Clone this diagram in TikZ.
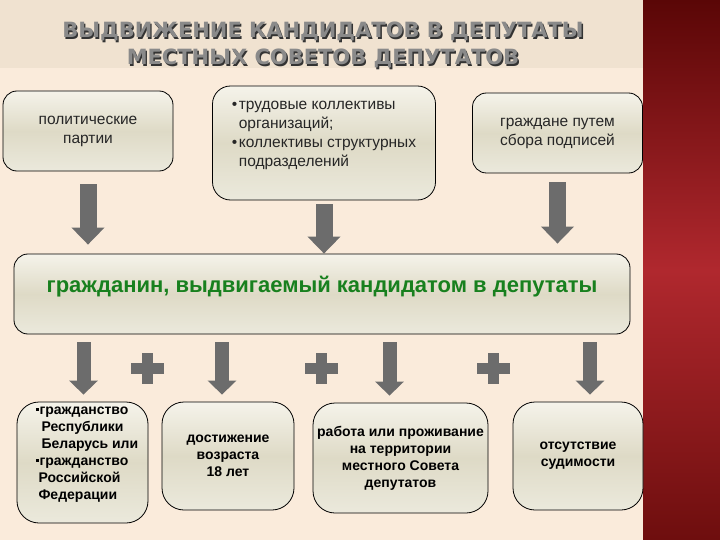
\documentclass[tikz,border=0pt]{standalone}
\usepackage{fontspec}
\setmainfont{Liberation Sans}
\newfontfamily\headfont{DejaVu Sans}
\usepackage{tikz}
\usetikzlibrary{arrows.meta,calc,positioning}
\definecolor{bgcream}{HTML}{FAEBDB}
\definecolor{bandbeige}{HTML}{F0E2D0}
\definecolor{redtop}{HTML}{5A0606}
\definecolor{redmid}{HTML}{B0282E}
\definecolor{redbot}{HTML}{6E0E0E}
\definecolor{boxtop}{HTML}{F5F3EA}
\definecolor{boxmid}{HTML}{DEDAC6}
\definecolor{boxbot}{HTML}{EBE9DC}
\definecolor{arrowgray}{HTML}{6C6C6C}
\definecolor{headgray}{HTML}{8A8A8A}
\definecolor{headshadow}{HTML}{333333}
\definecolor{candgreen}{HTML}{18801E}
\newcommand{\sqbul}{\raisebox{4pt}{\rule{3pt}{3pt}}\hspace{1pt}}
\tikzset{
    blok/.style={
        draw=black, line width=0.8pt,
        rounded corners=14pt,
        top color=boxtop, bottom color=boxbot, middle color=boxmid
    },
    plaintxt/.style={font=\fontsize{15.5}{19}\selectfont, text=black!85, align=center},
    boldtxt/.style={font=\bfseries\fontsize{14}{17}\selectfont, align=center},
    pil/.style={line width=17pt, draw=arrowgray, -{Triangle[width=32pt,length=17pt]}},
    pilsmall/.style={line width=14pt, draw=arrowgray, -{Triangle[width=28pt,length=14pt]}},
    titletxt/.style={font=\headfont\bfseries\fontsize{21}{27}\selectfont, align=center},
}

\begin{document}
\begin{tikzpicture}[x=1pt,y=-1pt]
\useasboundingbox (0,0) rectangle (720,540);
% background
\fill[bgcream] (0,0) rectangle (720,540);
\fill[bandbeige] (0,0) rectangle (643,68);
\shade[top color=redtop, bottom color=redbot, middle color=redmid] (643,0) rectangle (720,540);

% title
\node[titletxt, text=headshadow] (titleshadow) at (324.4,46.4)
    {ВЫДВИЖЕНИЕ КАНДИДАТОВ В ДЕПУТАТЫ\\МЕСТНЫХ СОВЕТОВ ДЕПУТАТОВ};
\node[titletxt, text=headgray] (title) at (323,45)
    {ВЫДВИЖЕНИЕ КАНДИДАТОВ В ДЕПУТАТЫ\\МЕСТНЫХ СОВЕТОВ ДЕПУТАТОВ};

% who nominates
\node[blok, plaintxt, minimum width=170pt, minimum height=80pt] (parties) at (88,131)
    {политические\\партии};
\node[blok, minimum width=223pt, minimum height=114pt, rounded corners=18pt] (labour) at (324,143) {};
\node[plaintxt, align=left] (labourT) at ([yshift=7.5pt]labour.center)
    {\makebox[7pt][l]{\textbullet}трудовые коллективы\\\hspace*{7pt}организаций;\\
     \makebox[7pt][l]{\textbullet}коллективы структурных\\\hspace*{7pt}подразделений};
\node[blok, plaintxt, minimum width=170pt, minimum height=80pt] (signs) at (557.5,133)
    {граждане путем\\сбора подписей};

% candidate
\node[blok, minimum width=616pt, minimum height=80pt] (cand) at (322,294) {};
\node[font=\bfseries\fontsize{22}{26}\selectfont, text=candgreen] (candT) at ([yshift=7pt]cand.center)
    {гражданин, выдвигаемый кандидатом в депутаты};

% requirements
\node[blok, minimum width=131pt, minimum height=121pt, rounded corners=22pt] (citiz) at (82.5,462.5) {};
\node[boldtxt, align=left, anchor=west] (citizT) at (32,455)
    {\sqbul гражданство\\\hspace*{6pt}Республики\\\hspace*{6pt}Беларусь или\\
     \sqbul гражданство\\\hspace*{3pt}Российской\\\hspace*{3pt}Федерации};
\node[blok, boldtxt, minimum width=132pt, minimum height=108pt, rounded corners=22pt] (age) at (228,456)
    {достижение\\возраста\\18 лет};
\node[blok, boldtxt, minimum width=175pt, minimum height=110pt, rounded corners=22pt] (work) at (400.5,458)
    {работа или проживание\\на территории\\местного Совета\\депутатов};
\node[blok, boldtxt, minimum width=130pt, minimum height=108pt, rounded corners=22pt] (record) at (578,456)
    {отсутствие\\судимости};

% arrows into the candidate box
\draw[pil, shorten <=13pt, shorten >=9pt] (parties.south) -- (parties.south |- cand.north);
\draw[pil, shorten <=4pt] (labour.south) -- (labour.south |- cand.north);
\draw[pil, shorten <=9pt, shorten >=10pt] (signs.south) -- (signs.south |- cand.north);

% arrows to the requirements
\coordinate (c1) at ($(citiz.north)+(1,0)$);
\coordinate (c2) at ($(age.north)+(-6,0)$);
\coordinate (c3) at ($(work.north)+(-11,0)$);
\coordinate (c4) at ($(record.north)+(12,0)$);
\foreach \c in {c1,c2,c3,c4}
    \draw[pilsmall, shorten <=8pt, shorten >=7pt] (cand.south -| \c) -- (\c);

% plus signs
\foreach \px in {147,321,493}{
    \fill[arrowgray] (\px-16.5,363) rectangle (\px+16.5,374);
    \fill[arrowgray] (\px-5.5,353) rectangle (\px+5.5,384);
}
\end{tikzpicture}
\end{document}
